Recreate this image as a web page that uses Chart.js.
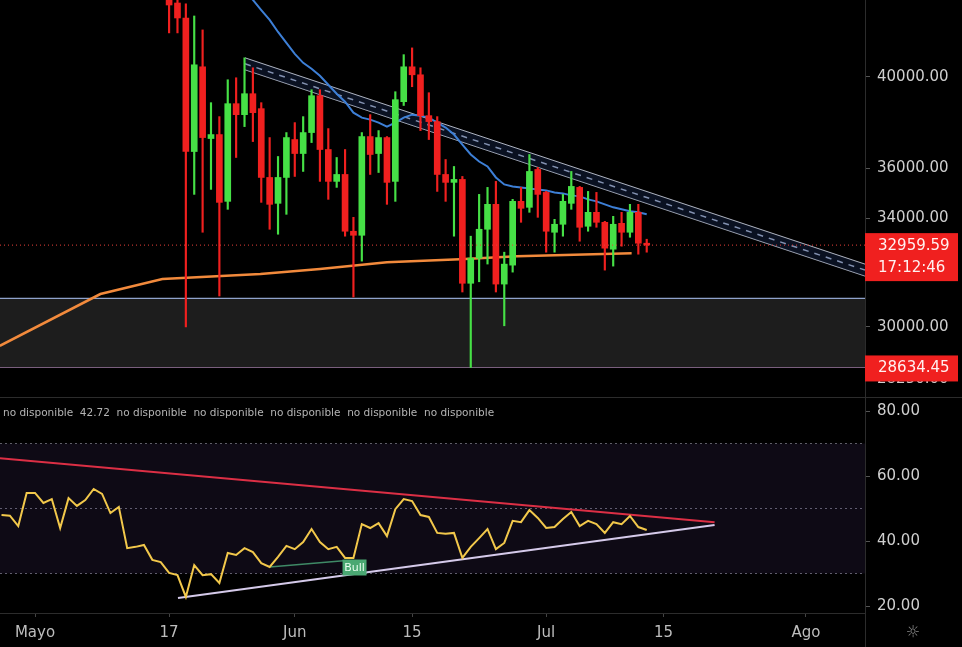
<!DOCTYPE html>
<html>
<head>
<meta charset="utf-8">
<title>BTC diario con RSI</title>
<script src="https://cdn.jsdelivr.net/npm/chart.js@4.4.1/dist/chart.umd.min.js"></script>
<style>
    html, body { margin: 0; padding: 0; background: #000; overflow: hidden; }
    #wrap { position: relative; width: 962px; height: 647px; overflow: hidden; background: #000; }
    #priceBox { position: absolute; left: 0; top: -20px; width: 962px; height: 417px; }
    #rsiBox { position: absolute; left: 0; top: 397px; width: 962px; height: 250px; }
</style>
</head>
<body>
<div id="wrap">
    <div id="priceBox"><canvas id="chartPrecio"></canvas></div>
    <div id="rsiBox"><canvas id="chartRsi"></canvas></div>
</div>
<script>
// dias contados desde el 1 de mayo (0 = Mayo 1)
const candleDays = [16, 17, 18, 19, 20, 21, 22, 23, 24, 25, 26, 27, 28, 29, 30, 31, 32, 33, 34, 35,
    36, 37, 38, 39, 40, 41, 42, 43, 44, 45, 46, 47, 48, 49, 50, 51, 52, 53, 54, 55,
    56, 57, 58, 59, 60, 61, 62, 63, 64, 65, 66, 67, 68, 69, 70, 71, 72, 73];
const opens = [44600, 43541, 42798, 36705, 40461, 37257, 37428, 34661, 38781, 38295, 39228, 38560, 35627, 34582, 35627, 37214, 36621, 37514, 39138, 36790,
    35466, 35750, 33490, 33335, 37342, 36621, 37299, 35466, 38870, 40461, 40091, 38251, 37990, 35750, 35426, 35546, 31545, 32470, 33566, 34542,
    31516, 32210, 34661, 34424, 35956, 35020, 33451, 33759, 34582, 35222, 33682, 34227, 33836, 32806, 33797, 33451, 34227, 33032];
const highs = [45000, 43700, 43500, 42896, 42214, 38826, 38208, 39863, 39954, 40881, 40415, 38826, 37299, 36496, 37514, 37946, 38208, 39408, 39408, 37686,
    36454, 36790, 34030, 37514, 38295, 37600, 37342, 39318, 41030, 41350, 40415, 39273, 38208, 36370, 36080, 35668, 33300, 34940, 35222, 35466,
    32693, 34741, 35222, 36580, 36040, 35060, 33953, 34940, 35874, 35262, 35060, 35020, 33875, 34070, 34227, 34542, 34542, 33184];
const lows = [42069, 42069, 30000, 34940, 33451, 35141, 31086, 34345, 36454, 37772, 37128, 34621, 33566, 33375, 34148, 35668, 35874, 37085, 35466, 34741,
    35222, 33300, 31050, 32358, 35750, 35830, 34542, 34661, 38700, 39545, 37600, 37214, 35060, 34661, 33300, 31230, 28634, 31600, 32250, 31230,
    30040, 31952, 33836, 34227, 34030, 32693, 32693, 33300, 34345, 33108, 33490, 33643, 32026, 32174, 32919, 33260, 32618, 32693];
const closes = [43441, 42798, 36705, 40554, 37299, 37428, 34621, 38781, 38295, 39228, 38383, 35627, 34542, 35627, 37299, 36621, 37514, 39138, 36790, 35466,
    35750, 33490, 33335, 37342, 36580, 37299, 35426, 38960, 40461, 40091, 38251, 37990, 35750, 35426, 35546, 31545, 32470, 33566, 34542, 31516,
    32247, 34661, 34385, 35874, 34940, 33490, 33759, 34661, 35262, 33643, 34227, 33836, 32844, 33759, 33451, 34227, 33032, 32959.59];

// media movil azul
const blueDays = [24, 25, 26, 27, 28, 29, 30, 31, 32, 33, 34, 35, 36, 37, 38, 39, 40, 41, 42, 43,
    44, 45, 46, 47, 48, 49, 50, 51, 52, 53, 54, 55, 56, 57, 58, 59, 60, 61, 62, 63,
    64, 65, 66, 67, 68, 69, 70, 71, 72, 73];
const blueValues = [44800, 44200, 43693, 43191, 42700, 42115, 41589, 41068, 40647, 40368, 40046, 39635, 39228, 38870, 38383, 38164, 38077, 37946, 37772, 37946,
    38164, 38295, 38251, 38164, 37946, 37729, 37428, 37001, 36579, 36287, 36080, 35627, 35343, 35262, 35222, 35181, 35141, 35101, 35020, 34980,
    34900, 34860, 34741, 34661, 34542, 34424, 34345, 34267, 34227, 34148];

// media movil naranja (200)
const orangeDays = [-4.2, 7.8, 15.2, 26.9, 34, 42, 50.7, 57.5, 71.2];
const orangeValues = [29355, 31157, 31697, 31879, 32063, 32321, 32432, 32544, 32655];

// canal bajista
const channelDays = [25.06, 99.05];
const channelUpper = [40881, 32247];
const channelMid = [40600, 32026];
const channelLower = [40322, 31806];

// zona de soporte y precios marcados
const zoneTop = 31000;
const lowPrice = 28634.45;
const lastPrice = 32959.59;
const countdown = '17:12:46';
const priceTicks = [28250, 30000, 34000, 36000, 40000, 44000];

// RSI diario
const rsiDays = [-4, -3, -2, -1, 0, 1, 2, 3, 4, 5, 6, 7, 8, 9, 10, 11, 12, 13, 14, 15,
    16, 17, 18, 19, 20, 21, 22, 23, 24, 25, 26, 27, 28, 29, 30, 31, 32, 33, 34, 35,
    36, 37, 38, 39, 40, 41, 42, 43, 44, 45, 46, 47, 48, 49, 50, 51, 52, 53, 54, 55,
    56, 57, 58, 59, 60, 61, 62, 63, 64, 65, 66, 67, 68, 69, 70, 71, 72, 73];
const rsiValues = [48.0, 47.8, 44.6, 54.8, 54.8, 51.7, 52.9, 44.0, 53.2, 50.8, 52.6, 56.0, 54.5, 48.6, 50.5, 37.8, 38.2, 38.8, 34.2, 33.5,
    30.2, 29.5, 22.8, 32.6, 29.5, 29.8, 27.1, 36.3, 35.7, 37.8, 36.6, 33.2, 32.0, 35.1, 38.5, 37.5, 39.7, 43.7, 39.7, 37.5,
    38.2, 34.8, 34.8, 45.2, 44.0, 45.5, 41.5, 49.8, 52.9, 52.3, 48.0, 47.4, 42.5, 42.2, 42.5, 34.8, 38.2, 40.9, 43.7, 37.5,
    39.4, 46.2, 45.8, 49.5, 47.1, 44.0, 44.3, 46.8, 48.9, 44.6, 46.2, 45.2, 42.5, 45.8, 45.2, 47.7, 44.3, 43.4];
const rsiTicks = [20, 40, 60, 80];
const rsiLevels = [70, 50, 30];

// lineas de tendencia del RSI
const redDays = [-4.18, 81.1];
const redValues = [65.5, 45.8];
const lilaDays = [17.06, 81.1];
const lilaValues = [22.5, 44.9];
const greenDays = [28, 36.8];
const greenValues = [32.0, 33.9];
const bullDay = 38.13;
const bullValue = 31.85;

const legendItems = ['no disponible', '42.72', 'no disponible', 'no disponible', 'no disponible', 'no disponible', 'no disponible'];

// eje de tiempo
const timeTickDays = [0, 16, 31, 45, 61, 75, 92];
const timeLabels = ['Mayo', '17', 'Jun', '15', 'Jul', '15', 'Ago'];

const X_MIN = -4.18, X_MAX = 99.05;
const AXIS_W = 97;
const FONT = 'DejaVu Sans';
const RED = '#f0201f';
const GREEN = '#46e046';

Chart.defaults.font.family = FONT;
Chart.defaults.animation = false;

function pts(xs, ys) {
    return xs.map((x, i) => ({ x: x, y: ys[i] }));
}
function flat(v) {
    return [{ x: X_MIN, y: v }, { x: X_MAX, y: v }];
}
function lineDs(data, color, width, order, extra) {
    return Object.assign({
        type: 'line', data: data, borderColor: color, borderWidth: width,
        pointRadius: 0, tension: 0, fill: false, order: order
    }, extra || {});
}

const candleColors = closes.map((c, i) => c >= opens[i] ? GREEN : RED);

const etiquetasPrecio = {
    id: 'etiquetasPrecio',
    afterDraw(chart) {
        const { ctx, chartArea } = chart;
        const ys = chart.scales.y;
        const left = chartArea.right;
        ctx.save();
        ctx.font = '15px "' + FONT + '"';
        ctx.textBaseline = 'middle';
        ctx.textAlign = 'left';
        let py = ys.getPixelForValue(lastPrice);
        ctx.fillStyle = RED;
        ctx.fillRect(left, py - 12, 93, 48);
        ctx.fillStyle = '#fff0f0';
        ctx.fillText(lastPrice.toFixed(2), left + 13, py + 1);
        ctx.fillText(countdown, left + 13, py + 23);
        py = ys.getPixelForValue(lowPrice);
        ctx.fillStyle = RED;
        ctx.fillRect(left, py - 12, 93, 26);
        ctx.fillStyle = '#fff0f0';
        ctx.fillText(lowPrice.toFixed(2), left + 13, py + 1);
        ctx.restore();
    }
};

const extrasRsi = {
    id: 'extrasRsi',
    afterDraw(chart) {
        const { ctx, chartArea, width, height } = chart;
        const xs = chart.scales.x, ys = chart.scales.y;
        ctx.save();
        // separador de paneles y eje de precios
        ctx.strokeStyle = '#2c2c2c';
        ctx.lineWidth = 1;
        ctx.beginPath();
        ctx.moveTo(0, 0.5); ctx.lineTo(width, 0.5);
        ctx.moveTo(chartArea.right + 0.5, chartArea.bottom); ctx.lineTo(chartArea.right + 0.5, height);
        ctx.stroke();
        // leyenda del indicador
        ctx.font = '10.5px "' + FONT + '"';
        ctx.fillStyle = '#b4b4b4';
        ctx.textBaseline = 'middle';
        ctx.fillText(legendItems.join('  '), chartArea.left + 3, chartArea.top + 16);
        // etiqueta Bull
        const bx = xs.getPixelForValue(bullDay), by = ys.getPixelForValue(bullValue);
        ctx.fillStyle = '#4aa872';
        ctx.fillRect(bx - 12, by - 8, 24, 16);
        ctx.fillStyle = '#eafff0';
        ctx.font = '11px "' + FONT + '"';
        ctx.textAlign = 'center';
        ctx.fillText('Bull', bx, by + 0.5);
        // icono de ajustes
        ctx.fillStyle = '#8a8a8a';
        ctx.font = '16px "' + FONT + '"';
        ctx.fillText('\u263C', chartArea.right + 48, chartArea.bottom + 20);
        ctx.restore();
    }
};

new Chart(document.getElementById('chartPrecio').getContext('2d'), {
    type: 'bar',
    data: {
        datasets: [
            lineDs(flat(lastPrice), '#e8403a', 1, 0, { borderDash: [1, 3] }),
            {
                type: 'bar', data: candleDays.map((d, i) => ({ x: d, y: [opens[i], closes[i]] })),
                backgroundColor: candleColors, barThickness: 6, minBarLength: 1, grouped: false, order: 1
            },
            {
                type: 'bar', data: candleDays.map((d, i) => ({ x: d, y: [lows[i], highs[i]] })),
                backgroundColor: candleColors, barThickness: 1.5, grouped: false, order: 2
            },
            lineDs(pts(blueDays, blueValues), '#3d7fd6', 2, 3),
            lineDs(pts(orangeDays, orangeValues), '#f28a3c', 2.5, 4),
            lineDs(pts(channelDays, channelUpper), 'rgba(205,210,225,0.85)', 1, 5, { fill: '+2', backgroundColor: 'rgba(30,50,95,0.35)' }),
            lineDs(pts(channelDays, channelMid), '#b8c4dc', 1.5, 5, { borderDash: [6, 6] }),
            lineDs(pts(channelDays, channelLower), 'rgba(205,210,225,0.85)', 1, 5),
            lineDs(flat(zoneTop), '#8fa2cc', 1.2, 6, { fill: '+1', backgroundColor: '#1d1d1d' }),
            lineDs(flat(lowPrice), '#d8a2e0', 1.2, 6)
        ]
    },
    options: {
        responsive: true,
        maintainAspectRatio: false,
        events: [],
        layout: { padding: 0 },
        scales: {
            x: {
                type: 'linear', min: X_MIN, max: X_MAX, display: false, offset: false,
                grid: { offset: false }
            },
            y: {
                type: 'logarithmic', position: 'right', min: 27678, max: 44708,
                afterBuildTicks: s => { s.ticks = priceTicks.map(v => ({ value: v })); },
                afterFit: s => { s.width = AXIS_W; s.paddingTop = 0; s.paddingBottom = 0; },
                ticks: {
                    color: '#cfcfcf', font: { size: 15 }, padding: 7, autoSkip: false,
                    callback: v => Number(v).toFixed(2)
                },
                grid: { drawOnChartArea: false, drawTicks: true, tickLength: 5, color: '#555' },
                border: { color: '#2c2c2c' }
            }
        },
        plugins: { legend: { display: false }, tooltip: { enabled: false } }
    },
    plugins: [etiquetasPrecio]
});

new Chart(document.getElementById('chartRsi').getContext('2d'), {
    type: 'line',
    data: {
        datasets: [
            lineDs(flat(rsiLevels[0]), '#5e5e68', 1, 6, { borderDash: [2, 3], fill: '+1', backgroundColor: 'rgba(126,87,194,0.11)' }),
            lineDs(flat(rsiLevels[2]), '#5e5e68', 1, 6, { borderDash: [2, 3] }),
            lineDs(flat(rsiLevels[1]), '#5e5e68', 1, 6, { borderDash: [2, 3] }),
            lineDs(pts(redDays, redValues), '#dc2f45', 2, 3),
            lineDs(pts(lilaDays, lilaValues), '#d5caea', 2, 3),
            lineDs(pts(greenDays, greenValues), '#3f8a66', 1.5, 2),
            lineDs(pts(rsiDays, rsiValues), '#f2c84b', 2, 1)
        ]
    },
    options: {
        responsive: true,
        maintainAspectRatio: false,
        events: [],
        layout: { padding: 0 },
        scales: {
            x: {
                type: 'linear', min: X_MIN, max: X_MAX, position: 'bottom',
                afterBuildTicks: s => { s.ticks = timeTickDays.map(v => ({ value: v })); },
                afterFit: s => { s.height = 34; s.paddingLeft = 0; s.paddingRight = 0; },
                ticks: {
                    color: '#bdbdbd', font: { size: 15 }, padding: 7, autoSkip: false,
                    maxRotation: 0, minRotation: 0,
                    callback: (v, i) => timeLabels[i]
                },
                grid: { drawOnChartArea: false, drawTicks: true, tickLength: 4, color: '#444' },
                border: { color: '#2c2c2c' }
            },
            y: {
                type: 'linear', position: 'right', min: 17.85, max: 84.31,
                afterBuildTicks: s => { s.ticks = rsiTicks.map(v => ({ value: v })); },
                afterFit: s => { s.width = AXIS_W; s.paddingTop = 0; s.paddingBottom = 0; },
                ticks: {
                    color: '#cfcfcf', font: { size: 15 }, padding: 7, autoSkip: false,
                    callback: v => Number(v).toFixed(2)
                },
                grid: { drawOnChartArea: false, drawTicks: true, tickLength: 5, color: '#555' },
                border: { color: '#2c2c2c' }
            }
        },
        plugins: { legend: { display: false }, tooltip: { enabled: false } }
    },
    plugins: [extrasRsi]
});
</script>
</body>
</html>
